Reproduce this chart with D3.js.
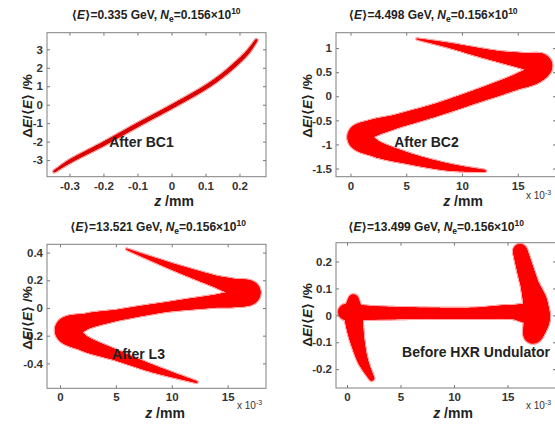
<!DOCTYPE html>
<html><head><meta charset="utf-8">
<script src="https://cdn.jsdelivr.net/npm/d3@7"></script>
<style>
html,body{margin:0;padding:0;background:#fff;}
svg{display:block;font-family:"Liberation Sans",Arial,"DejaVu Sans",sans-serif;}
</style></head>
<body>
<svg id="c" width="555" height="424"></svg>
<script>
// ---------------- DATA ----------------
const energies = ["0.335", "4.498", "13.521", "13.499"];
const chargeText = "0.156";
const stageLabels = ["After BC1", "After BC2", "After L3", "Before HXR Undulator"];

// tick values
const bc1XTicks = [-0.3, -0.2, -0.1, 0, 0.1, 0.2];
const bc1YTicks = [-3, -2, -1, 0, 1, 2, 3];
const bc2XTicks = [0, 5, 10, 15];
const bc2YTicks = [-1.5, -1, -0.5, 0, 0.5, 1];
const l3XTicks = [0, 5, 10, 15];
const l3YTicks = [-0.4, -0.2, 0, 0.2, 0.4];
const hxrXTicks = [0, 5, 10, 15];
const hxrYTicks = [-0.2, -0.1, 0, 0.1, 0.2];

// axis ranges
const bc1XDomain = [-0.366, 0.278], bc1YDomain = [-3.9, 3.9];
const bc2XDomain = [-1.3, 18.43],   bc2YDomain = [-1.67, 1.32];
const l3XDomain  = [-1.16, 18.43],  l3YDomain  = [-0.58, 0.46];
const hxrXDomain = [-1.03, 19.53],  hxrYDomain = [-0.27, 0.27];

// After BC1: centre line (z in mm, dE in %) and half-spread (in % units)
const bc1Z      = [-0.345, -0.3, -0.2, -0.1, 0, 0.1, 0.15, 0.2, 0.225, 0.25];
const bc1DE     = [-3.62, -3.08, -2.12, -1.1, -0.11, 0.94, 1.59, 2.39, 2.86, 3.5];
const bc1Spread = [0.05, 0.09, 0.1, 0.1, 0.1, 0.1, 0.1, 0.1, 0.09, 0.06];

// After BC2 (z in 1e-3 mm)
const bc2Z      = [5.94, 9.0, 11.2, 13.4, 15.6, 17.1, 16.6, 14.8, 11.17, 7.58, 3.99, 1.6, 0.8, 2.0, 5.18, 8.77, 12.06];
const bc2DE     = [1.19, 1.05, 0.93, 0.82, 0.73, 0.64, 0.47, 0.29, -0.01, -0.29, -0.53, -0.70, -0.85, -1.06, -1.29, -1.47, -1.55];
const bc2Spread = [0.01, 0.05, 0.08, 0.11, 0.16, 0.23, 0.19, 0.15, 0.13, 0.125, 0.135, 0.18, 0.25, 0.17, 0.11, 0.07, 0.02];

// After L3
const l3Z      = [5.96, 10.13, 14.0, 15.6, 16.9, 15.8, 14.0, 9.54, 5.07, 2.2, 0.63, 1.9, 5.07, 8.35, 12.23];
const l3DE     = [0.425, 0.297, 0.19, 0.15, 0.11, 0.07, 0.05, 0.007, -0.053, -0.10, -0.16, -0.245, -0.342, -0.439, -0.535];
const l3Spread = [0.004, 0.022, 0.04, 0.058, 0.085, 0.06, 0.045, 0.033, 0.038, 0.055, 0.088, 0.055, 0.036, 0.025, 0.006];

// Before HXR undulator: core band + two tails
const hxrCoreZ      = [-0.1, 2.62, 7.29, 11.96, 15.7, 17.88];
const hxrCoreDE     = [0.012, 0.009, 0.008, 0.008, 0.012, 0.0];
const hxrCoreSpread = [0.03, 0.024, 0.02, 0.02, 0.026, 0.044];
const hxrHeadZ      = [0.6, 0.59, 0.75, 1.06, 1.52, 2.31];
const hxrHeadDE     = [0.06, 0.012, -0.05, -0.111, -0.173, -0.234];
const hxrHeadSpread = [0.018, 0.035, 0.03, 0.024, 0.018, 0.009];
const hxrTailZ      = [16.17, 16.64, 17.1, 17.57, 17.73, 17.39];
const hxrTailDE     = [0.24, 0.172, 0.11, 0.049, -0.013, -0.068];
const hxrTailSpread = [0.026, 0.03, 0.033, 0.044, 0.048, 0.037];

// ---------------- DRAWING ----------------
const svg = d3.select("#c");
svg.append("rect").attr("width",555).attr("height",424).attr("fill","#fff");
const defs = svg.append("defs");
const filt = defs.append("filter").attr("id","fuzz").attr("x","-10%").attr("y","-10%").attr("width","120%").attr("height","120%");
filt.append("feGaussianBlur").attr("stdDeviation",0.7);

const FONT = '"Liberation Sans",Arial,"DejaVu Sans",sans-serif';
const fmt = d => String(d);

const panels = [
  {box:[47,266,32.7,176.7], xd:bc1XDomain, yd:bc1YDomain, xt:bc1XTicks, yt:bc1YTicks,
   bands:[[bc1Z,bc1DE,bc1Spread]], color:"#dd0000", title:[156,15], ylab:[27,106], xlab:[174,201],
   stage:[141.5,142], exp:null},
  {box:[336,556,32.7,176.7], xd:bc2XDomain, yd:bc2YDomain, xt:bc2XTicks, yt:bc2YTicks,
   bands:[[bc2Z,bc2DE,bc2Spread]], color:"#ff0000", title:[433,15], ylab:[307,106], xlab:[463,201],
   stage:[426.5,142], exp:[526,199]},
  {box:[47,266,244.3,388.3], xd:l3XDomain, yd:l3YDomain, xt:l3XTicks, yt:l3YTicks,
   bands:[[l3Z,l3DE,l3Spread]], color:"#ff0000", title:[158,227], ylab:[27,318], xlab:[165,413],
   stage:[138.5,354], exp:[237,409]},
  {box:[336,556,242.7,388], xd:hxrXDomain, yd:hxrYDomain, xt:hxrXTicks, yt:hxrYTicks,
   bands:[[hxrCoreZ,hxrCoreDE,hxrCoreSpread],[hxrHeadZ,hxrHeadDE,hxrHeadSpread],[hxrTailZ,hxrTailDE,hxrTailSpread]],
   color:"#ff0000", title:[436,227], ylab:[307,315], xlab:[453,413], stage:[476,352], exp:[526,409]}
];

// Draws a band of variable thickness along a smooth centre line as a union of round-capped strokes.
const smooth = d3.line().curve(d3.curveCatmullRom.alpha(0.5));
function drawBand(parent, x, y, zs, ds, ss, color, extra) {
  const pts = zs.map((z,i) => [x(z), y(ds[i])]);
  const ws = ss.map(s => Math.abs(y(s) - y(0)));
  const tmp = svg.append("path").attr("d", smooth(pts)).attr("fill","none");
  const node = tmp.node();
  const total = node.getTotalLength();
  const knotLen = pts.map((p,i) => {
    if (i === 0) return 0;
    const t2 = svg.append("path").attr("d", smooth(pts.slice(0,i+1)));
    const l = t2.node().getTotalLength(); t2.remove(); return l;
  });
  knotLen[knotLen.length-1] = total;
  const wAt = d3.scaleLinear().domain(knotLen).range(ws).clamp(true);
  const step = 0.8;
  let prev = node.getPointAtLength(0), prevL = 0;
  const gg = parent.append("g").attr("fill","none").attr("stroke",color).attr("stroke-linecap","round");
  for (let l = step; l <= total + step*0.5; l += step) {
    const L = Math.min(l, total);
    const pt = node.getPointAtLength(L);
    const w = 2 * wAt((L + prevL) / 2) + extra;
    gg.append("line").attr("x1",prev.x).attr("y1",prev.y).attr("x2",pt.x).attr("y2",pt.y)
      .attr("stroke-width", Math.max(w, 0.8));
    prev = pt; prevL = L;
  }
  tmp.remove();
}

panels.forEach((p, pi) => {
  const [x0,x1,y0,y1] = p.box;
  const x = d3.scaleLinear().domain(p.xd).range([x0,x1]);
  const y = d3.scaleLinear().domain(p.yd).range([y1,y0]);
  const clipId = "clip"+pi;
  defs.append("clipPath").attr("id",clipId).append("rect")
    .attr("x",x0).attr("y",y0).attr("width",x1-x0).attr("height",y1-y0);

  const g = svg.append("g");
  const data = g.append("g").attr("clip-path",`url(#${clipId})`);
  const halo = data.append("g").attr("opacity",0.35).attr("filter","url(#fuzz)");
  const core = data.append("g");
  p.bands.forEach(b => {
    drawBand(halo, x, y, b[0], b[1], b[2], p.color, 2.4);
    drawBand(core, x, y, b[0], b[1], b[2], p.color, 0);
  });

  // axes
  const axStyle = sel => {
    sel.select(".domain").remove();
    sel.selectAll(".tick line").attr("stroke","#777");
    sel.selectAll("text").attr("fill","#333").attr("font-size",11.5).attr("font-weight","bold")
      .attr("font-family",FONT);
  };
  g.append("g").attr("transform",`translate(0,${y1})`)
    .call(d3.axisBottom(x).tickValues(p.xt).tickSize(-3).tickPadding(5).tickFormat(fmt)).call(axStyle);
  g.append("g").attr("transform",`translate(0,${y0})`)
    .call(d3.axisTop(x).tickValues(p.xt).tickSize(-3).tickFormat("")).call(axStyle);
  g.append("g").attr("transform",`translate(${x0},0)`)
    .call(d3.axisLeft(y).tickValues(p.yt).tickSize(-3).tickPadding(4).tickFormat(fmt)).call(axStyle);
  g.append("g").attr("transform",`translate(${x1},0)`)
    .call(d3.axisRight(y).tickValues(p.yt).tickSize(-3).tickFormat("")).call(axStyle);
  g.append("rect").attr("x",x0).attr("y",y0).attr("width",x1-x0).attr("height",y1-y0)
    .attr("fill","none").attr("stroke","#808080").attr("stroke-width",1);

  // title
  const t = svg.append("text").attr("x",p.title[0]).attr("y",p.title[1]+4)
    .attr("text-anchor","middle").attr("font-size",12).attr("font-weight","bold")
    .attr("fill","#222").attr("font-family",FONT);
  t.append("tspan").text("\u27E8");
  t.append("tspan").attr("font-style","italic").text("E");
  t.append("tspan").text("\u27E9=" + energies[pi] + " GeV, ");
  t.append("tspan").attr("font-style","italic").text("N");
  t.append("tspan").attr("font-size",8.5).attr("dy",3).text("e");
  t.append("tspan").attr("dy",-3).text("=" + chargeText + "\u00D710");
  t.append("tspan").attr("font-size",8.5).attr("dy",-5).text("10");

  // y label
  const yl = svg.append("text").attr("transform",`translate(${p.ylab[0]},${p.ylab[1]}) rotate(-90)`)
    .attr("text-anchor","middle").attr("dy","0.35em").attr("font-size",13.5).attr("font-weight","bold")
    .attr("fill","#222").attr("font-family",FONT);
  yl.append("tspan").text("\u0394");
  yl.append("tspan").attr("font-style","italic").text("E");
  yl.append("tspan").text("/\u27E8");
  yl.append("tspan").attr("font-style","italic").text("E");
  yl.append("tspan").text("\u27E9 /%");

  // x label
  const xl = svg.append("text").attr("x",p.xlab[0]).attr("y",p.xlab[1]).attr("dy","0.35em")
    .attr("text-anchor","middle").attr("font-size",14).attr("font-weight","bold")
    .attr("fill","#222").attr("font-family",FONT);
  xl.append("tspan").attr("font-style","italic").text("z");
  xl.append("tspan").text(" /mm");

  // exponent label
  if (p.exp) {
    const e = svg.append("text").attr("x",p.exp[0]).attr("y",p.exp[1])
      .attr("font-size",10).attr("fill","#333").attr("font-family",FONT);
    e.append("tspan").text("x 10");
    e.append("tspan").attr("font-size",7).attr("dy",-4).text("-3");
  }

  // stage annotation
  svg.append("text").attr("x",p.stage[0]).attr("y",p.stage[1]).attr("dy","0.35em")
    .attr("text-anchor","middle").attr("font-size",14).attr("font-weight","bold")
    .attr("fill","#222").attr("font-family",FONT).text(stageLabels[pi]);
});
</script>
</body></html>
